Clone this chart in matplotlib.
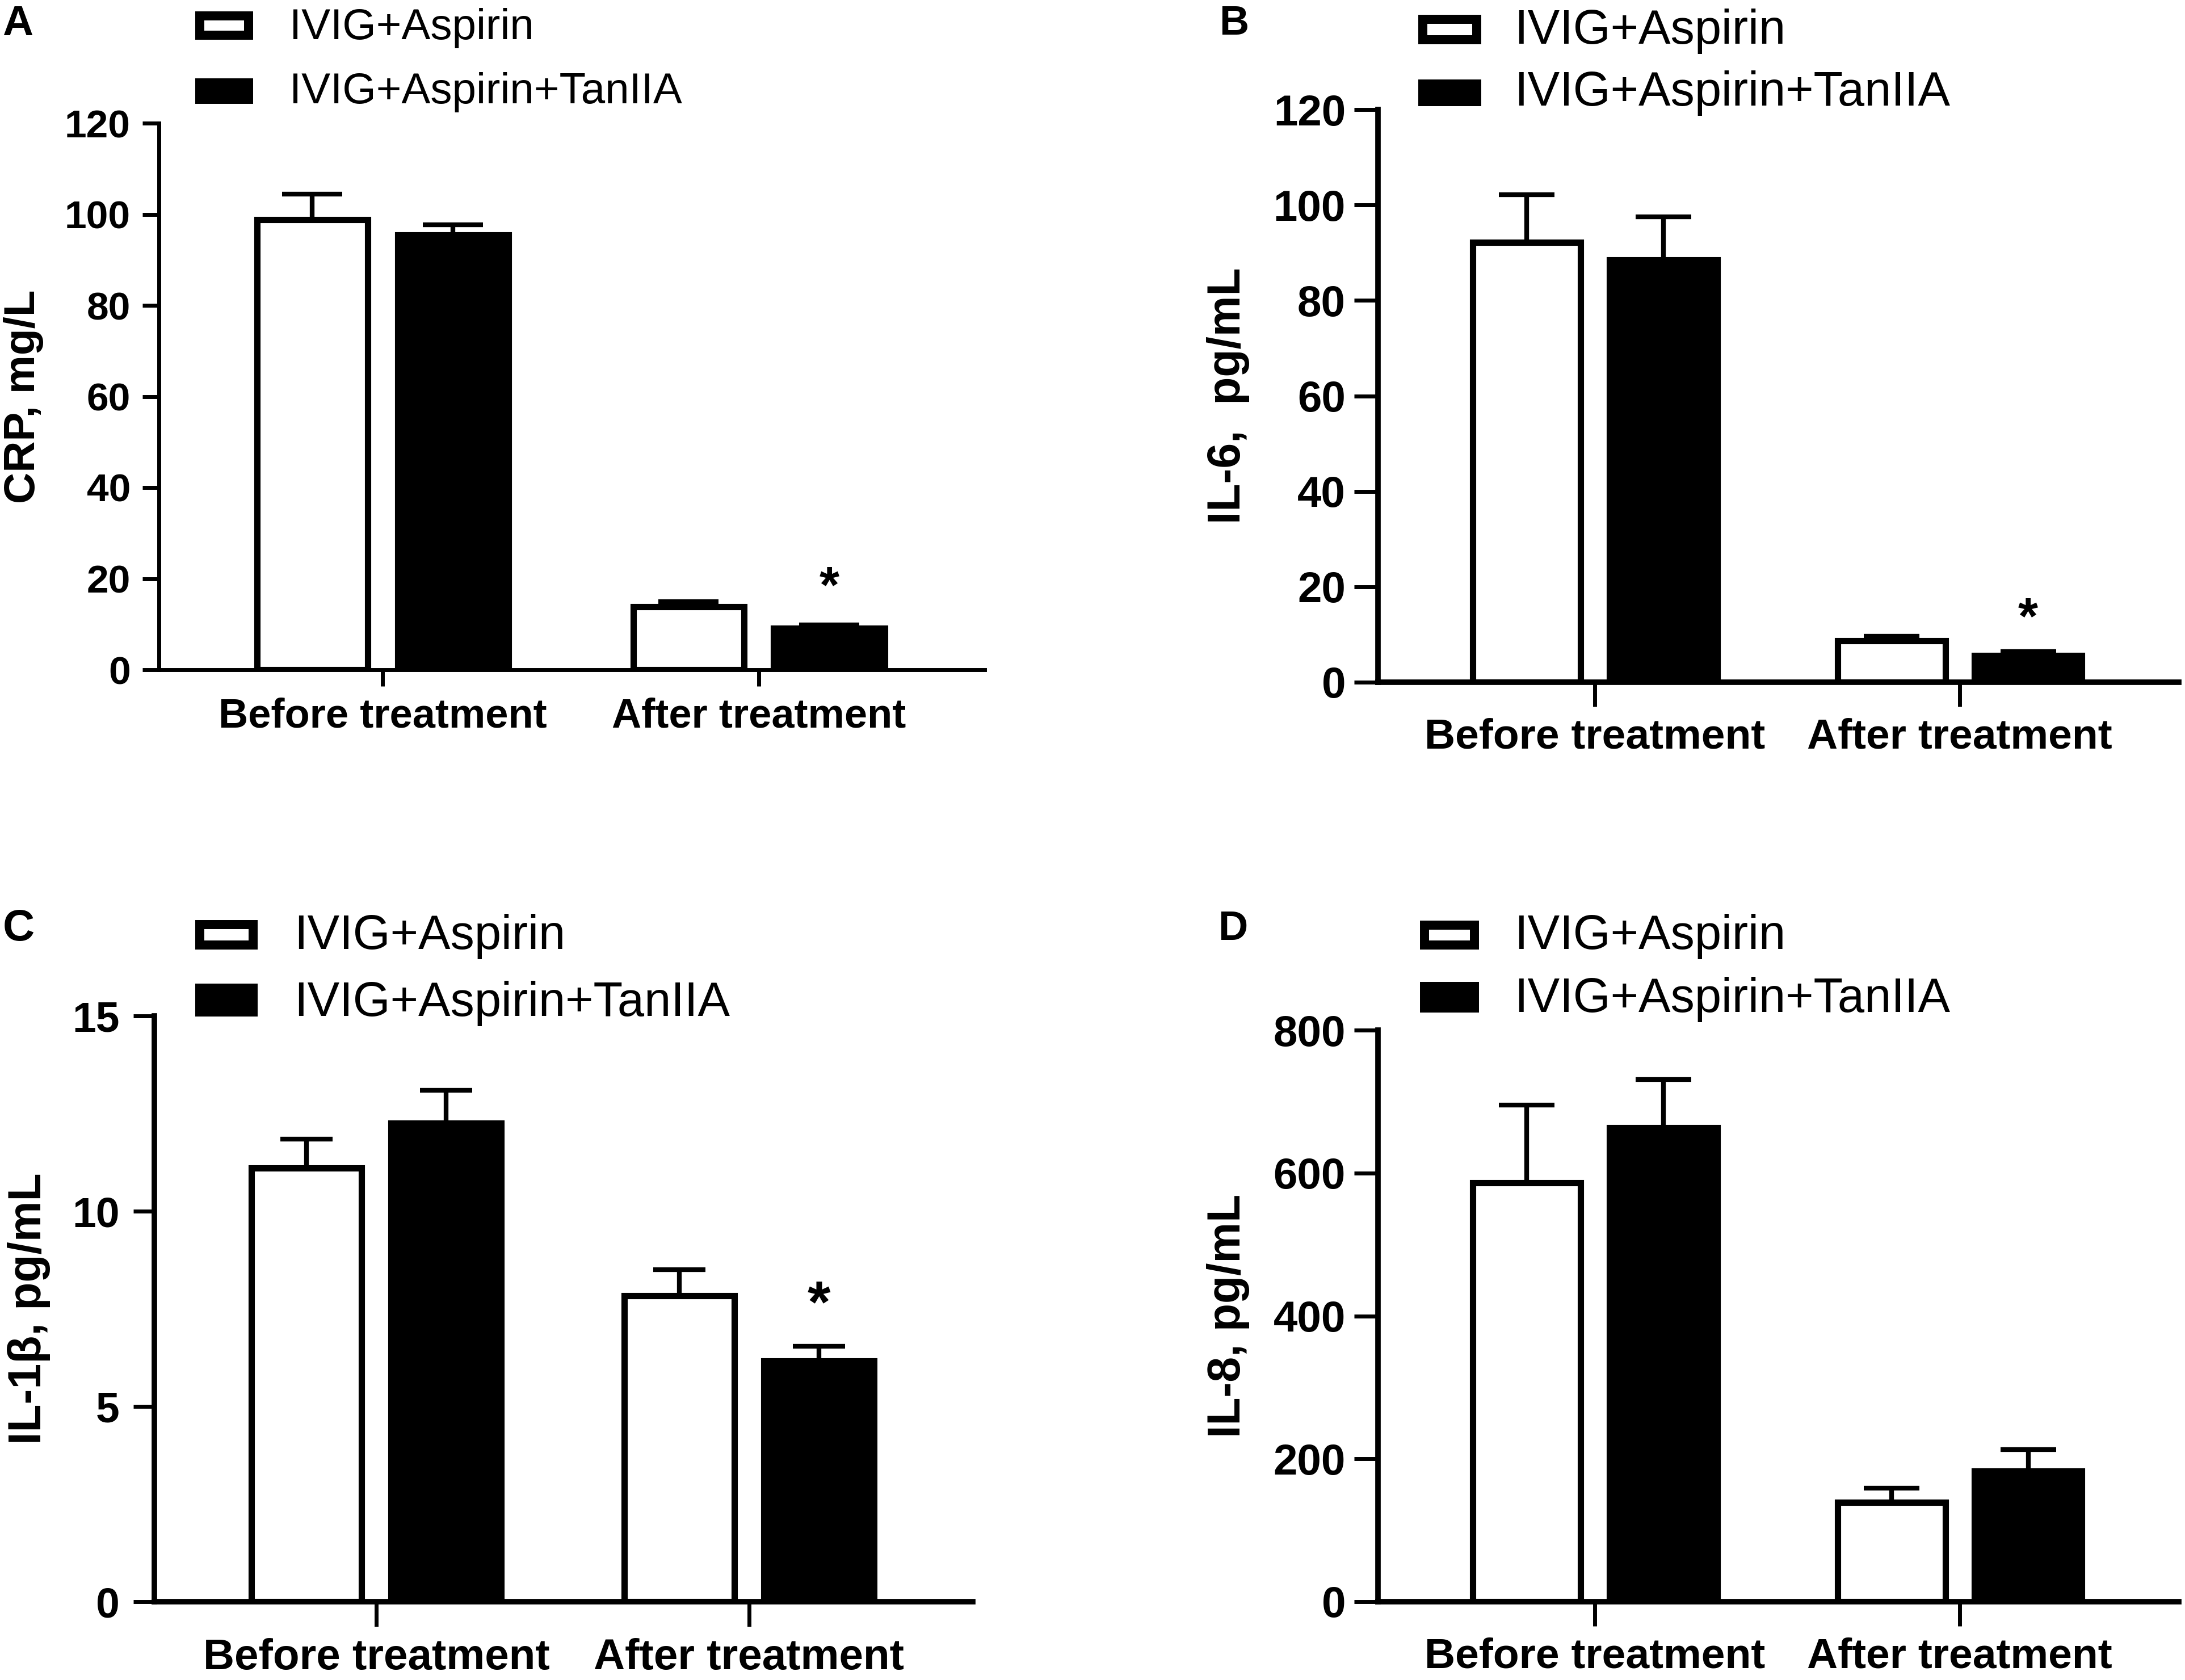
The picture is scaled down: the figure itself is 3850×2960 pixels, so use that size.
import matplotlib.pyplot as plt
from matplotlib.patches import Rectangle

plt.rcParams['font.family'] = ['Liberation Sans', 'DejaVu Sans']

W, H = 3850, 2960

groups = ['Before treatment', 'After treatment']
series = ['IVIG+Aspirin', 'IVIG+Aspirin+TanIIA']

# means and upper SD
crp_aspirin = [98.8, 13.8]
crp_aspirin_sd = [5.6, 1.2]
crp_tan = [95.4, 9.1]
crp_tan_sd = [2.3, 0.8]

il6_aspirin = [92.2, 8.7]
il6_aspirin_sd = [10.0, 0.9]
il6_tan = [88.5, 5.6]
il6_tan_sd = [9.0, 0.8]

il1b_aspirin = [11.1, 7.84]
il1b_aspirin_sd = [0.75, 0.66]
il1b_tan = [12.26, 6.16]
il1b_tan_sd = [0.84, 0.38]

il8_aspirin = [586, 139]
il8_aspirin_sd = [109, 20]
il8_tan = [663, 183]
il8_tan_sd = [68, 30]

panels = [
    dict(letter='A', ylabel='CRP, mg/L', ymax=120, ystep=20,
         means=[crp_aspirin, crp_tan], sds=[crp_aspirin_sd, crp_tan_sd], star=True),
    dict(letter='B', ylabel='IL-6,  pg/mL', ymax=120, ystep=20,
         means=[il6_aspirin, il6_tan], sds=[il6_aspirin_sd, il6_tan_sd], star=True),
    dict(letter='C', ylabel='IL-1β, pg/mL', ymax=15, ystep=5,
         means=[il1b_aspirin, il1b_tan], sds=[il1b_aspirin_sd, il1b_tan_sd], star=True),
    dict(letter='D', ylabel='IL-8, pg/mL', ymax=800, ystep=200,
         means=[il8_aspirin, il8_tan], sds=[il8_aspirin_sd, il8_tan_sd], star=False),
]

# layout, in pixels of the reference (left, top, right, bottom of the plot box)
boxes = [(280, 217, 1735, 1180), (2428, 193, 3839, 1202),
         (272, 1790, 1714, 2822), (2428, 1815, 3839, 2822)]
letter_pos = [(4, 62, 54), (2148, 61, 52), (5, 1657, 56), (2146, 1656, 52)]
ylabel_x = [-0.164, -0.187, -0.153, -0.187]
ylabel_size = [55, 58, 58, 58]
tick_size = [50, 55, 54, 55]
xlab_size = [52, 54, 55, 54]
tick_pad = [15, 11, 17, 11]
ytick_len = [21, 30, 27, 30]
xtick_len = [21, 31, 32, 31]
spine_w = [5, 7, 7, 7]
cap_size = [38, 35, 33, 35]
star_size = [65, 65, 75, 65]
star_off = [45, 40, 50, 40]
# legend: swatch left/right, row tops/bottoms, text x, font size
leg_x = [(344, 446), (2499, 2610), (344, 454), (2502, 2606)]
leg_rows = [[(20, 70), (138, 183)], [(26, 78), (140, 187)],
            [(1621, 1673), (1733, 1791)], [(1622, 1673), (1730, 1784)]]
leg_text_x = [510, 2668, 518, 2668]
leg_size = [55, 61, 61, 61]

fills = ['white', 'black']
offsets = [-0.187, 0.187]
bar_w = 0.295

fig = plt.figure(figsize=(W / 100, H / 100), dpi=100)

for i, p in enumerate(panels):
    l, t, r, b = boxes[i]
    ax = fig.add_axes([l / W, 1 - b / H, (r - l) / W, (b - t) / H])
    for s in range(2):
        xs = [g + offsets[s] for g in range(len(groups))]
        ax.bar(xs, p['means'][s], width=bar_w, color=fills[s], edgecolor='black',
               linewidth=8, zorder=2)
        ax.errorbar(xs, p['means'][s], yerr=[[0] * len(groups), p['sds'][s]],
                    fmt='none', ecolor='black', elinewidth=6, capsize=cap_size[i],
                    capthick=6, zorder=3)
    if p['star']:
        top = p['means'][1][1] + p['sds'][1][1]
        ax.annotate('*', xy=(1 + offsets[1], top), xytext=(0, star_off[i]),
                    textcoords='offset points', ha='center', va='center',
                    fontsize=star_size[i], fontweight='bold')
    ax.set_xlim(-0.595, 1.6)
    ax.set_ylim(0, p['ymax'])
    ax.set_yticks(range(0, p['ymax'] + 1, p['ystep']))
    ax.set_xticks(range(len(groups)))
    ax.set_xticklabels(groups, fontsize=xlab_size[i], fontweight='bold')
    for lab in ax.get_yticklabels():
        lab.set_fontweight('bold')
    ax.tick_params(axis='y', direction='out', length=ytick_len[i], width=5,
                   pad=tick_pad[i], labelsize=tick_size[i])
    ax.tick_params(axis='x', direction='out', length=xtick_len[i], width=5, pad=14)
    for side in ['top', 'right']:
        ax.spines[side].set_visible(False)
    for side in ['left', 'bottom']:
        ax.spines[side].set_linewidth(spine_w[i])
        ax.spines[side].set_zorder(4)
    ax.set_ylabel(p['ylabel'], fontsize=ylabel_size[i], fontweight='bold', va='center')
    ax.yaxis.set_label_coords(ylabel_x[i], 0.5)

    lx, ly, lsize = letter_pos[i]
    fig.text(lx / W, 1 - ly / H, p['letter'], fontsize=lsize, fontweight='bold',
             ha='left', va='baseline')

    # legend, drawn as swatches plus text
    x0, x1 = leg_x[i]
    for s in range(2):
        y0, y1 = leg_rows[i][s]
        e = 8
        fig.add_artist(Rectangle(((x0 + e) / W, 1 - (y1 - e) / H),
                                 (x1 - x0 - 2 * e) / W, (y1 - y0 - 2 * e) / H,
                                 facecolor=fills[s], edgecolor='black', linewidth=11.5,
                                 transform=fig.transFigure, joinstyle='miter'))
        fig.text(leg_text_x[i] / W, 1 - (y1 - 1) / H, series[s], fontsize=leg_size[i],
                 ha='left', va='baseline')

fig.savefig('out.png', dpi=100, facecolor='white')
